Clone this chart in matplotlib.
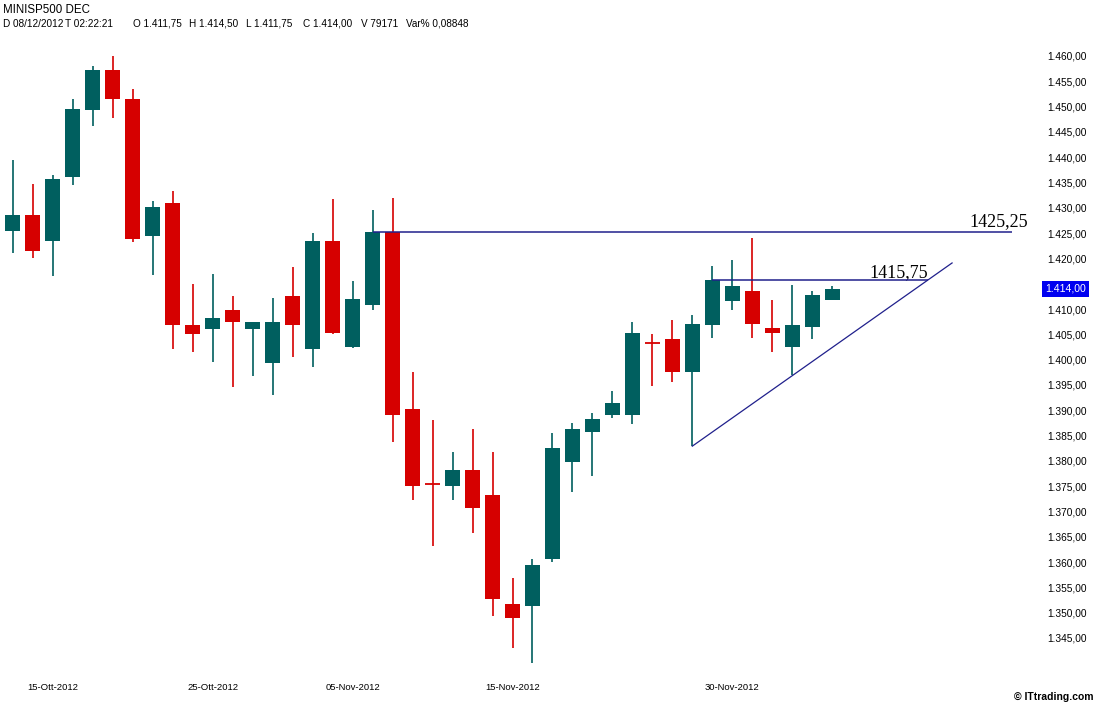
import numpy as np
from matplotlib import pyplot as plt

# daily candles, MINISP500 DEC, 11-Oct-2012 .. 07-Dec-2012
dates = ['11-Ott', '12-Ott', '15-Ott', '16-Ott', '17-Ott', '18-Ott', '19-Ott', '22-Ott', '23-Ott', '24-Ott',
         '25-Ott', '26-Ott', '29-Ott', '30-Ott', '31-Ott', '01-Nov', '02-Nov', '05-Nov', '06-Nov', '07-Nov',
         '08-Nov', '09-Nov', '12-Nov', '13-Nov', '14-Nov', '15-Nov', '16-Nov', '19-Nov', '20-Nov', '21-Nov',
         '22-Nov', '23-Nov', '26-Nov', '27-Nov', '28-Nov', '29-Nov', '30-Nov', '03-Dic', '04-Dic', '05-Dic',
         '06-Dic', '07-Dic']
opens = [1425.5, 1428.5, 1423.5, 1436.0, 1449.25, 1457.25, 1451.5, 1424.5, 1431.0, 1406.75,
         1406.0, 1409.75, 1406.0, 1399.25, 1412.5, 1402.0, 1423.5, 1402.5, 1410.75, 1425.25,
         1390.25, 1375.5, 1375.0, 1378.25, 1373.25, 1351.75, 1351.25, 1360.5, 1379.75, 1385.75,
         1389.0, 1389.0, 1403.25, 1404.0, 1397.5, 1406.75, 1411.5, 1413.5, 1406.25, 1402.5,
         1406.5, 1411.75]
highs = [1439.5, 1434.75, 1436.5, 1451.5, 1458.0, 1460.0, 1453.5, 1431.25, 1433.25, 1415.0,
         1417.0, 1412.5, 1407.5, 1412.25, 1418.25, 1425.0, 1431.75, 1415.5, 1429.5, 1432.0,
         1397.5, 1388.0, 1381.75, 1386.25, 1381.75, 1356.75, 1360.5, 1385.5, 1387.5, 1389.5,
         1393.75, 1407.5, 1405.0, 1407.75, 1408.75, 1418.5, 1419.75, 1424.0, 1411.75, 1414.75,
         1413.5, 1414.5]
lows = [1421.0, 1420.0, 1416.5, 1434.5, 1446.25, 1447.75, 1423.25, 1416.75, 1402.0, 1401.5,
        1399.5, 1394.5, 1396.75, 1393.0, 1400.5, 1398.5, 1405.0, 1402.25, 1409.75, 1383.75,
        1372.25, 1363.25, 1372.25, 1365.75, 1349.25, 1343.0, 1340.0, 1360.0, 1373.75, 1377.0,
        1388.5, 1387.25, 1394.75, 1395.5, 1383.0, 1404.25, 1409.75, 1404.25, 1401.5, 1397.0,
        1404.0, 1411.75]
closes = [1428.5, 1421.5, 1435.75, 1449.5, 1457.25, 1451.5, 1423.75, 1430.25, 1406.75, 1405.0,
          1408.25, 1407.5, 1407.5, 1407.5, 1406.75, 1423.5, 1405.25, 1412.0, 1425.25, 1389.0,
          1375.0, 1375.5, 1378.25, 1370.75, 1352.75, 1349.0, 1359.5, 1382.5, 1386.25, 1388.25,
          1391.5, 1405.25, 1403.25, 1397.5, 1407.0, 1415.75, 1414.5, 1407.0, 1405.25, 1406.75,
          1412.75, 1414.0]

date_ticks = [2, 10, 17, 25, 36]
date_labels = ['15-Ott-2012', '25-Ott-2012', '05-Nov-2012', '15-Nov-2012', '30-Nov-2012']
# 1.415 is hidden behind the last-price box
price_ticks = [p for p in range(1345, 1461, 5) if p != 1415]

header_items = ['D 08/12/2012', 'T 02:22:21', 'O 1.411,75', 'H 1.414,50', 'L 1.411,75',
                'C 1.414,00', 'V 79171', 'Var% 0,08848']

levels = [1425.25, 1415.75]
level_start = [18, 35]
level_end = [50.0, 45.8]

trend_x = [34, 47.0]
trend_y = [1382.9, 1419.1]

last_price = 1414.00

up_col = '#005f5f'
dn_col = '#d60000'
line_col = '#20208c'

fig = plt.figure(figsize=(10.98, 7.06), dpi=100)
ax = fig.add_axes([0, 36 / 706, 1040 / 1098, 630 / 706])

x = np.arange(len(opens))
o = np.array(opens)
c = np.array(closes)
h = np.array(highs)
l = np.array(lows)
cols = [up_col if cc > oo else dn_col for oo, cc in zip(o, c)]

ax.vlines(x, l, h, colors=cols, linewidth=1.2, zorder=2)
body = np.abs(c - o)
bottom = np.minimum(o, c)
ax.bar(x, np.where(body < 0.3, 0.0, body), bottom=bottom, width=0.75, color=cols, zorder=3)
# doji: flat body
for i in np.where(body < 0.3)[0]:
    ax.hlines(o[i], x[i] - 0.375, x[i] + 0.375, colors=cols[i], linewidth=1.3, zorder=3)

for lv, s, e in zip(levels, level_start, level_end):
    ax.hlines(lv, s, e, colors=line_col, linewidth=1.1, zorder=4)
ax.plot(trend_x, trend_y, color=line_col, linewidth=0.9, zorder=4)

ax.text(50.8, 1426.3, '1425,25', family='Liberation Serif', fontsize=13, ha='right', va='baseline')
ax.text(45.8, 1416.4, '1415,75', family='Liberation Serif', fontsize=13, ha='right', va='baseline')

ax.set_xlim(-0.65, 51.4)
ax.set_ylim(1338.66, 1463.16)
for sp in ax.spines.values():
    sp.set_visible(False)

ax.yaxis.tick_right()
ax.set_yticks(price_ticks)
ax.set_yticklabels([('1.%03d,00' % (p - 1000)) for p in price_ticks],
                   family='Liberation Sans', fontsize=7.3)
ax.tick_params(axis='y', length=0, pad=5)
ax.set_xticks(date_ticks)
ax.set_xticklabels(date_labels, family='Liberation Sans', fontsize=6.8)
ax.tick_params(axis='x', length=0, pad=9)

ax.text(1.0048, last_price, '1.414,00', transform=ax.get_yaxis_transform(), color='white',
        family='Liberation Sans', fontsize=7.6, ha='left', va='center',
        bbox=dict(boxstyle='square,pad=0.3', fc='#0000f0', ec='none'), zorder=6, clip_on=False)

fig.text(3 / 1098, 1 - 10 / 706, 'MINISP500 DEC', family='Liberation Sans', fontsize=8.3, va='center')
header_x = [3, 65, 133, 189, 246, 303, 361, 406]
for hx, item in zip(header_x, header_items):
    fig.text(hx / 1098, 1 - 24 / 706, item, family='Liberation Sans', fontsize=7.2, va='center')
fig.text(1094 / 1098, 1 - 697 / 706, '\u00a9 ITtrading.com', family='Liberation Sans', fontsize=7.5,
         fontweight='bold', ha='right', va='center')

fig.savefig('out.png', dpi=100)
